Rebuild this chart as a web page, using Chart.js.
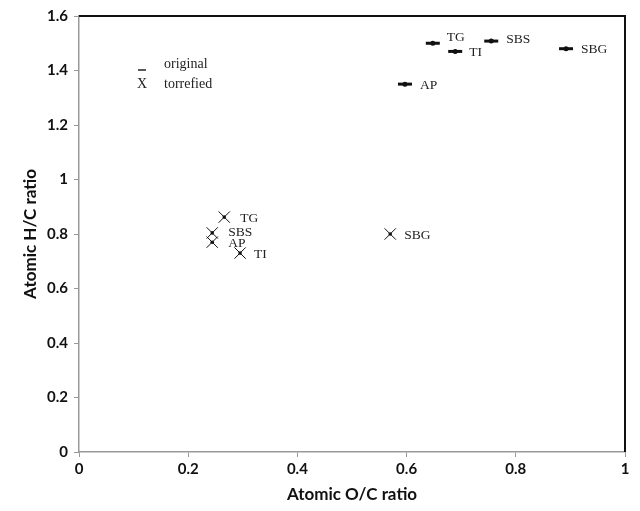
<!DOCTYPE html>
<html>
<head>
<meta charset="utf-8">
<script src="https://cdn.jsdelivr.net/npm/chart.js@4/dist/chart.umd.min.js"></script>
<style>
  html, body { margin: 0; padding: 0; background: #fff; }
  #wrap { width: 640px; height: 511px; }
</style>
</head>
<body>
<div id="wrap"><canvas id="c" width="640" height="511"></canvas></div>
<script>
// Samples
const SAMPLES = ['TG', 'TI', 'SBS', 'SBG', 'AP'];

// Original biomass (O/C, H/C)
const ORIG_OC = [0.648, 0.689, 0.755, 0.892, 0.597];
const ORIG_HC = [1.500, 1.470, 1.508, 1.480, 1.350];

// Torrefied biomass (O/C, H/C)
const TORR_OC = [0.266, 0.295, 0.244, 0.570, 0.244];
const TORR_HC = [0.862, 0.730, 0.804, 0.800, 0.770];

const X_TICKS = [0, 0.2, 0.4, 0.6, 0.8, 1];
const Y_TICKS = [0, 0.2, 0.4, 0.6, 0.8, 1, 1.2, 1.4, 1.6];

function toPoints(xs, ys) {
    return xs.map((x, i) => ({ x: x, y: ys[i] }));
}

// Label offsets next to each point (px)
const ORIG_LABEL_DX = [14, 14, 15, 15, 15];
const ORIG_LABEL_DY = [-6, 1, -2, 1, 1];
const TORR_LABEL_DX = [16, 14, 16, 14, 16];
const TORR_LABEL_DY = [1, 1, 0, 1, 1];

const tickFont = { family: 'Lato', size: 15, weight: 'bold' };
const titleFont = { family: 'Lato', size: 17, weight: 'bold' };

// Frame, point labels and legend
const annotate = {
    id: 'annotate',
    afterDatasetsDraw(chart) {
        const ctx = chart.ctx;
        const a = chart.chartArea;
        const xs = chart.scales.x, ys = chart.scales.y;

        ctx.save();
        // black top & right frame
        ctx.strokeStyle = '#111';
        ctx.lineWidth = 2;
        ctx.beginPath();
        ctx.moveTo(a.left, a.top);
        ctx.lineTo(a.right, a.top);
        ctx.lineTo(a.right, a.bottom);
        ctx.stroke();

        // center dots on markers
        ctx.fillStyle = '#111';
        ORIG_OC.forEach((v, i) => {
            ctx.beginPath();
            ctx.arc(xs.getPixelForValue(v), ys.getPixelForValue(ORIG_HC[i]), 2.5, 0, Math.PI * 2);
            ctx.fill();
        });
        TORR_OC.forEach((v, i) => {
            ctx.beginPath();
            ctx.arc(xs.getPixelForValue(v), ys.getPixelForValue(TORR_HC[i]), 1.8, 0, Math.PI * 2);
            ctx.fill();
        });

        // sample labels
        ctx.font = '13.5px "Liberation Serif"';
        ctx.fillStyle = '#222';
        ctx.textBaseline = 'middle';
        ctx.textAlign = 'left';
        SAMPLES.forEach((s, i) => {
            ctx.fillText(s, xs.getPixelForValue(ORIG_OC[i]) + ORIG_LABEL_DX[i], ys.getPixelForValue(ORIG_HC[i]) + ORIG_LABEL_DY[i]);
            ctx.fillText(s, xs.getPixelForValue(TORR_OC[i]) + TORR_LABEL_DX[i], ys.getPixelForValue(TORR_HC[i]) + TORR_LABEL_DY[i]);
        });

        // legend
        const lx = a.left + 63, ly = a.top + 54;
        ctx.strokeStyle = '#222';
        ctx.lineWidth = 1.5;
        ctx.beginPath();
        ctx.moveTo(lx - 4, ly);
        ctx.lineTo(lx + 4, ly);
        ctx.stroke();
        ctx.font = '14px "Liberation Serif"';
        ctx.textAlign = 'center';
        ctx.fillText('X', lx, ly + 14);
        ctx.textAlign = 'left';
        ctx.fillText('original', lx + 22, ly - 6);
        ctx.fillText('torrefied', lx + 22, ly + 14);
        ctx.restore();
    }
};

new Chart(document.getElementById('c'), {
    type: 'scatter',
    data: {
        datasets: [
            {
                label: 'original',
                data: toPoints(ORIG_OC, ORIG_HC),
                pointStyle: 'line',
                pointRadius: 7,
                pointBorderWidth: 3,
                borderColor: '#111',
                backgroundColor: '#111'
            },
            {
                label: 'torrefied',
                data: toPoints(TORR_OC, TORR_HC),
                pointStyle: 'crossRot',
                pointRadius: 8,
                pointBorderWidth: 1,
                borderColor: '#111',
                backgroundColor: '#111'
            }
        ]
    },
    options: {
        responsive: false,
        animation: false,
        layout: { padding: { top: 16, right: 15, left: 0, bottom: 0 } },
        plugins: {
            legend: { display: false },
            tooltip: { enabled: false }
        },
        scales: {
            x: {
                type: 'linear',
                min: 0,
                max: 1,
                afterBuildTicks: (s) => { s.ticks = X_TICKS.map(v => ({ value: v })); },
                afterFit: (s) => { s.height = 59; },
                ticks: {
                    color: '#111',
                    font: tickFont,
                    padding: 3,
                    callback: (v) => String(v)
                },
                grid: { drawOnChartArea: false, drawTicks: true, tickLength: 5, color: '#999' },
                border: { color: '#999', width: 1.5 },
                title: { display: true, text: 'Atomic O/C ratio', color: '#111', font: titleFont, padding: { top: 0, bottom: 6 } }
            },
            y: {
                type: 'linear',
                min: 0,
                max: 1.6,
                afterBuildTicks: (s) => { s.ticks = Y_TICKS.map(v => ({ value: v })); },
                afterFit: (s) => { s.width = 79; },
                ticks: {
                    color: '#111',
                    font: tickFont,
                    padding: 6,
                    callback: (v) => String(v)
                },
                grid: { drawOnChartArea: false, drawTicks: true, tickLength: 5, color: '#999' },
                border: { color: '#999', width: 1.5 },
                title: { display: true, text: 'Atomic H/C ratio', color: '#111', font: titleFont, padding: { top: 20, bottom: 0 } }
            }
        }
    },
    plugins: [annotate]
});
</script>
</body>
</html>
